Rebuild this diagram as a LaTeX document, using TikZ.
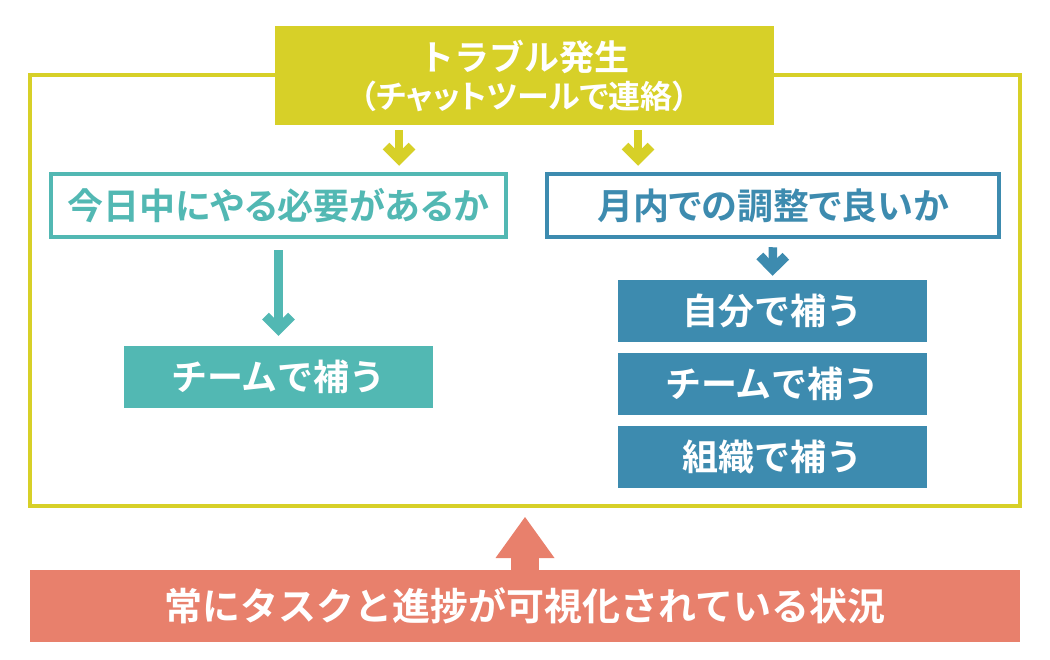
\documentclass[tikz,border=0pt]{standalone}
\usepackage{fontspec}
\setmainfont{Noto Sans CJK JP}[BoldFont={Noto Sans CJK JP Bold}]
\newfontfamily\jpprop{Noto Sans CJK JP}[BoldFont={Noto Sans CJK JP Bold},RawFeature=+palt]
\usetikzlibrary{arrows.meta}
\definecolor{olive1}{RGB}{215,208,40}
\definecolor{teal1}{RGB}{82,184,179}
\definecolor{blue1}{RGB}{61,139,175}
\definecolor{salmon1}{RGB}{232,128,108}
\tikzstyle{block} = [rectangle, inner sep=0pt, text centered, font=\bfseries\fontsize{36}{40}\selectfont]
\tikzstyle{ask} = [block, draw, line width=4.5pt, fill=white, minimum height=63pt, font=\jpprop\bfseries\fontsize{36}{40}\selectfont]
\tikzstyle{fix} = [block, text=white, minimum width=309pt, minimum height=62pt]
\tikzstyle{chev} = [line width=8.5pt, -{Straight Barb[length=13pt, width=26pt, line width=9.5pt]}]

\begin{document}
\begin{tikzpicture}[x=1pt, y=-1pt]
	\useasboundingbox (0,0) rectangle (1050,659);
	% Frame
	\node [block, draw=olive1, line width=4pt, minimum width=990pt, minimum height=431pt] (F) at (525,290.5) {};
	\node [block, fill=olive1, text=white, align=center, minimum width=499pt, minimum height=99pt, font=\bfseries\fontsize{35}{41}\selectfont] (T) at (524.5,75.5) {\raisebox{-3pt}{トラブル発生}\\{\jpprop\fontsize{32}{41}\selectfont （チャットツールで連絡）}};
	\node [ask, draw=teal1, text=teal1, minimum width=455pt] (Q1) at (278.5,205.5) {今日中にやる必要があるか};
	\node [ask, draw=blue1, text=blue1, minimum width=452pt] (Q2) at (773,205.5) {月内での調整で良いか};
	\node [fix, fill=teal1] (A1) at (278.5,377) {チームで補う};
	\node [fix, fill=blue1] (B1) at (772.5,311) {自分で補う};
	\node [fix, fill=blue1] (B2) at (772.5,384) {チームで補う};
	\node [fix, fill=blue1] (B3) at (772.5,457) {組織で補う};
	\node [block, fill=salmon1, text=white, minimum width=990pt, minimum height=72pt, font=\bfseries\fontsize{38}{40}\selectfont] (S) at (525,606) {常にタスクと進捗が可視化されている状況};

	% Arrows
	\coordinate (L) at (399,0);
	\coordinate (R) at (638,0);
	\draw [chev, olive1, shorten <=5pt, shorten >=6pt] (T.south -| L) to (Q1.north -| L);
	\draw [chev, olive1, shorten <=5pt, shorten >=6pt] (T.south -| R) to (Q2.north -| R);
	\draw [chev, teal1, shorten <=11pt, shorten >=10pt] (Q1.south) to (A1.north);
	\draw [chev, blue1, shorten <=8pt, shorten >=4pt] (Q2.south) to (B1.north);
	\draw [line width=28pt, salmon1, -{Triangle[length=41pt, width=59pt, line width=0pt]}, shorten >=9pt] (S.north) to (F.south);
\end{tikzpicture}
\end{document}
